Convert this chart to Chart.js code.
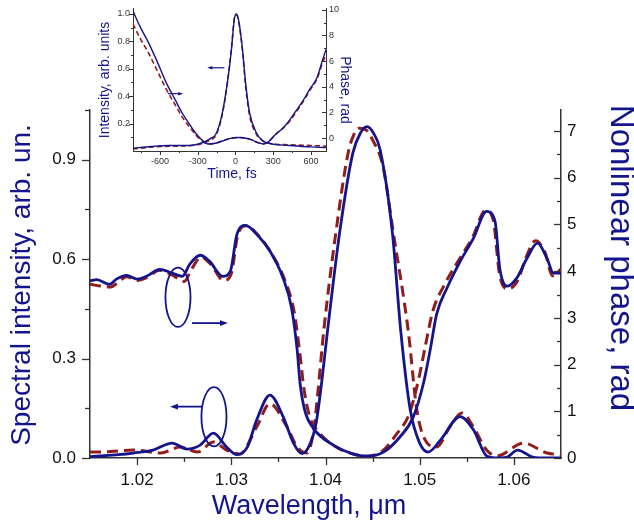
<!DOCTYPE html>
<html><head><meta charset="utf-8">
<script src="https://cdn.jsdelivr.net/npm/chart.js@4/dist/chart.umd.min.js"></script>
<style>
html,body{margin:0;padding:0;background:#fff;}
#wrap{position:relative;width:634px;height:527px;overflow:hidden;}
#main{position:absolute;left:0;top:0;}
#inset{position:absolute;left:95px;top:0;}
</style></head><body>
<div id="wrap"><canvas id="main" width="634" height="527"></canvas><canvas id="inset" width="265" height="185"></canvas></div>
<script>
// ---------------- MAIN CHART DATA ----------------
const X_TICKS = [1.02, 1.03, 1.04, 1.05, 1.06];
const X_MINOR = [1.025, 1.035, 1.045, 1.055];
const YL_TICKS = [0, 0.3, 0.6, 0.9];
const YL_MINOR = [0.15, 0.45, 0.75, 1.05];
const YR_TICKS = [0, 1, 2, 3, 4, 5, 6, 7];
const YR_MINOR = [0.5, 1.5, 2.5, 3.5, 4.5, 5.5, 6.5];

const INT_SOLID_WL = [1.0150,1.0161,1.0180,1.0196,1.0217,1.0237,1.0253,1.0267,1.0281,1.0295,1.0306,1.0317,1.0327,1.0341,1.0355,1.0366,1.0375,1.0384,1.0390,1.0396,1.0402,1.0415,1.0429,1.0437,1.0444,1.0451,1.0458,1.0471,1.0480,1.0490,1.0500,1.0509,1.0522,1.0543,1.0557,1.0571,1.0580,1.0592,1.0604,1.0620,1.0635,1.0650];
const INT_SOLID =    [0.004, 0.006, 0.010, 0.015, 0.024, 0.045, 0.027, 0.039, 0.075, 0.033, 0.010, 0.033, 0.115, 0.190, 0.125, 0.045, 0.013, 0.045, 0.105, 0.230, 0.380, 0.680, 0.920, 0.980, 1.000, 0.980, 0.930, 0.680, 0.380, 0.145, 0.045, 0.018, 0.054, 0.125, 0.085, 0.006, 0.000, 0.002, 0.024, 0.003, 0.000, 0.000];

const INT_DASH_WL = [1.0150,1.0161,1.0196,1.0225,1.0246,1.0264,1.0281,1.0295,1.0309,1.0327,1.0341,1.0359,1.0370,1.0380,1.0387,1.0392,1.0398,1.0411,1.0424,1.0430,1.0436,1.0443,1.0450,1.0461,1.0472,1.0488,1.0497,1.0508,1.0518,1.0532,1.0545,1.0557,1.0571,1.0582,1.0610,1.0635,1.0650];
const INT_DASH =    [0.018, 0.018, 0.024, 0.015, 0.033, 0.018, 0.048, 0.024, 0.012, 0.094, 0.164, 0.094, 0.033, 0.015, 0.075, 0.200, 0.380, 0.680, 0.920, 0.975, 0.995, 0.990, 0.960, 0.880, 0.680, 0.380, 0.145, 0.045, 0.033, 0.094, 0.136, 0.094, 0.024, 0.006, 0.045, 0.015, 0.010];

const PH_SOLID_WL = [1.0150,1.0157,1.0171,1.0178,1.0189,1.0200,1.0210,1.0224,1.0237,1.0248,1.0256,1.0267,1.0277,1.0291,1.0299,1.0306,1.0315,1.0327,1.0341,1.0355,1.0364,1.0370,1.0373,1.0378,1.0387,1.0408,1.0429,1.0444,1.0461,1.0479,1.0493,1.0504,1.0511,1.0518,1.0529,1.0543,1.0557,1.0571,1.0580,1.0585,1.0593,1.0603,1.0614,1.0625,1.0635,1.0642,1.0650];
const PH_SOLID =    [3.79, 3.82, 3.72, 3.83, 3.91, 3.83, 3.89, 4.04, 3.96, 3.89, 4.15, 4.34, 4.21, 3.89, 4.00, 4.79, 4.98, 4.79, 4.43, 3.85, 3.21, 2.30, 1.60, 1.02, 0.64, 0.28, 0.09, 0.04, 0.12, 0.45, 0.87, 1.60, 2.30, 3.08, 3.64, 4.21, 4.70, 5.28, 5.06, 4.06, 3.68, 3.85, 4.28, 4.60, 4.28, 3.96, 3.96];

const PH_DASH_WL = [1.0150,1.0161,1.0172,1.0182,1.0189,1.0200,1.0210,1.0224,1.0237,1.0250,1.0258,1.0268,1.0278,1.0292,1.0300,1.0307,1.0316,1.0328,1.0342,1.0357,1.0367,1.0373,1.0377,1.0383,1.0393,1.0410,1.0430,1.0444,1.0460,1.0475,1.0489,1.0499,1.0506,1.0514,1.0526,1.0541,1.0556,1.0570,1.0578,1.0585,1.0594,1.0604,1.0613,1.0623,1.0633,1.0641,1.0650];
const PH_DASH =    [3.72, 3.68, 3.66, 3.80, 3.88, 3.80, 3.86, 4.02, 3.92, 3.78, 4.05, 4.30, 4.15, 3.80, 3.95, 4.78, 4.97, 4.78, 4.40, 3.80, 3.10, 2.20, 1.50, 0.90, 0.55, 0.25, 0.08, 0.04, 0.14, 0.50, 0.95, 1.70, 2.40, 3.15, 3.70, 4.22, 4.72, 5.30, 5.10, 3.90, 3.62, 3.80, 4.30, 4.65, 4.40, 3.90, 4.05];

// annotation marks (data units)
const ELLIPSES_MAIN = [ {cx:1.02434, cy:0.485, rx:0.00133, ry:0.0895}, {cx:1.02816, cy:0.1246, rx:0.00133, ry:0.0895} ];
const ARROWS_MAIN = [ {x1:1.02583, y1:0.407, x2:1.02965, y2:0.407}, {x1:1.0270, y1:0.155, x2:1.02349, y2:0.155} ];

// ---------------- INSET DATA ----------------
const T_TICKS = [-600, -300, 0, 300, 600];
const T_MINOR = [-750, -450, -150, 150, 450];
const IL_TICKS = [0.2, 0.4, 0.6, 0.8, 1.0];
const IL_MINOR = [0.1, 0.3, 0.5, 0.7, 0.9];
const IR_TICKS = [0, 2, 4, 6, 8, 10];
const IR_MINOR = [1, 3, 5, 7, 9];

const INS_INT_T =     [-815, -672, -528, -368, -264, -200, -152, -104, -64, -32, -8, 8, 24, 56, 80, 112, 168, 210, 248, 432, 600, 720];
const INS_INT_SOLID = [0.02, 0.033, 0.04, 0.04, 0.06, 0.09, 0.13, 0.28, 0.50, 0.74, 0.97, 1.00, 0.96, 0.74, 0.50, 0.28, 0.13, 0.08, 0.06, 0.04, 0.03, 0.025];
const INS_INT_DASH =  [0.015,0.028, 0.035,0.038, 0.055, 0.08, 0.12, 0.27, 0.50, 0.75, 0.97, 0.99, 0.95, 0.73, 0.48, 0.26, 0.12, 0.08, 0.06, 0.045,0.04, 0.035];

const INS_PH_T =     [-815, -760, -690, -620, -550, -480, -420, -360, -310, -260, -220, -160, -100, -40, 20, 60, 120, 180, 220, 260, 320, 380, 430, 480, 536, 590, 648, 690, 720];
const INS_PH_SOLID = [9.9, 8.7, 7.4, 5.9, 4.3, 3.0, 1.9, 1.0, 0.3, -0.2, -0.45, -0.4, -0.2, -0.02, 0.05, 0.03, -0.1, -0.35, -0.45, -0.3, 0.3, 0.8, 1.4, 2.1, 2.9, 3.8, 4.7, 6.0, 6.9];
const INS_PH_DASH =  [8.9, 7.8, 6.6, 5.2, 3.8, 2.6, 1.6, 0.8, 0.2, -0.25, -0.45, -0.4, -0.2, -0.02, 0.05, 0.03, -0.1, -0.35, -0.45, -0.3, 0.3, 0.8, 1.3, 2.0, 2.8, 3.7, 4.6, 5.8, 6.5];

const ARROWS_INSET = [ {x1:-536, y1:0.418, x2:-416, y2:0.418}, {x1:-88, y1:0.607, x2:-224, y2:0.607} ];

// ---------------- TEXT ----------------
const TXT_X = 'Wavelength, \u03bcm';
const TXT_YL = 'Spectral intensity, arb. un.';
const TXT_YR = 'Nonlinear phase, rad';
const TXT_IX = 'Time, fs';
const TXT_IYL = 'Intensity, arb. units';
const TXT_IYR = 'Phase, rad';

const NAVY = '#14148c';
const RED = '#921c1c';
const AXC = '#333333';
const FONT = "'Liberation Sans', Arial, sans-serif";

const pts = (xs, ys) => xs.map((x, i) => ({x, y: ys[i]}));

const deco = {
  id: 'deco',
  afterDraw(chart, args, o) {
    const ctx = chart.ctx, ca = chart.chartArea;
    ctx.save();
    ctx.lineCap = 'butt';
    (o.ticks || []).forEach(t => {
      const s = chart.scales[t.scale];
      ctx.strokeStyle = AXC; ctx.lineWidth = t.width;
      const draw = (v, len) => {
        const p = Math.round(s.getPixelForValue(v)) + 0.5;
        ctx.beginPath();
        if (t.side === 'bottom') { ctx.moveTo(p, ca.bottom); ctx.lineTo(p, ca.bottom + len); }
        else if (t.side === 'left') { ctx.moveTo(ca.left, p); ctx.lineTo(ca.left - len, p); }
        else { ctx.moveTo(ca.right, p); ctx.lineTo(ca.right - len, p); }
        ctx.stroke();
      };
      t.major.forEach(v => draw(v, t.majorLen));
      t.minor.forEach(v => draw(v, t.minorLen));
    });
    (o.ellipses || []).forEach(e => {
      const xs = chart.scales[e.xs], ys = chart.scales[e.ys];
      const cx = xs.getPixelForValue(e.cx), cy = ys.getPixelForValue(e.cy);
      const rx = Math.abs(xs.getPixelForValue(e.cx + e.rx) - cx), ry = Math.abs(ys.getPixelForValue(e.cy + e.ry) - cy);
      ctx.strokeStyle = NAVY; ctx.lineWidth = e.lw;
      ctx.beginPath(); ctx.ellipse(cx, cy, rx, ry, 0, 0, 2 * Math.PI); ctx.stroke();
    });
    (o.arrows || []).forEach(a => {
      const xs = chart.scales[a.xs], ys = chart.scales[a.ys];
      const x1 = xs.getPixelForValue(a.x1), y1 = ys.getPixelForValue(a.y1);
      const x2 = xs.getPixelForValue(a.x2), y2 = ys.getPixelForValue(a.y2);
      const dir = Math.sign(x2 - x1);
      ctx.strokeStyle = NAVY; ctx.fillStyle = NAVY; ctx.lineWidth = a.lw;
      ctx.beginPath(); ctx.moveTo(x1, y1); ctx.lineTo(x2 - dir * a.hl * 0.6, y2); ctx.stroke();
      ctx.beginPath(); ctx.moveTo(x2, y2); ctx.lineTo(x2 - dir * a.hl, y2 - a.hw); ctx.lineTo(x2 - dir * a.hl, y2 + a.hw); ctx.closePath(); ctx.fill();
    });
    (o.titles || []).forEach(tt => {
      ctx.save(); ctx.translate(tt.x, tt.y); ctx.rotate(tt.rot * Math.PI / 180);
      ctx.font = tt.font; ctx.fillStyle = NAVY; ctx.textAlign = 'center'; ctx.textBaseline = 'middle';
      ctx.fillText(tt.text, 0, 0); ctx.restore();
    });
    ctx.restore();
  }
};

function setTicks(list) { return s => { s.ticks = list.map(v => ({value: v})); }; }
const noGrid = { display: false, drawTicks: false, tickLength: 0 };

// ---------------- MAIN CHART ----------------
new Chart(document.getElementById('main'), {
  type: 'line',
  data: { datasets: [
    { data: pts(INT_SOLID_WL, INT_SOLID), yAxisID: 'yL', borderColor: NAVY, borderWidth: 2.8 },
    { data: pts(PH_SOLID_WL, PH_SOLID), yAxisID: 'yR', borderColor: NAVY, borderWidth: 2.8 },
    { data: pts(INT_DASH_WL, INT_DASH), yAxisID: 'yL', borderColor: RED, borderWidth: 3, borderDash: [11, 6] },
    { data: pts(PH_DASH_WL, PH_DASH), yAxisID: 'yR', borderColor: RED, borderWidth: 3, borderDash: [11, 6] }
  ]},
  options: {
    responsive: false, animation: false, devicePixelRatio: 1,
    layout: { padding: { top: 110, left: 0, right: 0, bottom: 0 } },
    elements: { point: { radius: 0 }, line: { cubicInterpolationMode: 'monotone', fill: false } },
    plugins: {
      legend: { display: false }, tooltip: { enabled: false },
      deco: {
        ticks: [
          { scale: 'x', side: 'bottom', major: X_TICKS, minor: X_MINOR, majorLen: 7, minorLen: 4, width: 1.3 },
          { scale: 'yL', side: 'left', major: YL_TICKS, minor: YL_MINOR, majorLen: 8, minorLen: 5, width: 1.3 },
          { scale: 'yR', side: 'right', major: YR_TICKS, minor: YR_MINOR, majorLen: 7, minorLen: 4, width: 1.3 }
        ],
        ellipses: ELLIPSES_MAIN.map(e => Object.assign({xs: 'x', ys: 'yL', lw: 1.8}, e)),
        arrows: ARROWS_MAIN.map(a => Object.assign({xs: 'x', ys: 'yL', lw: 1.8, hl: 8, hw: 2.8}, a)),
        titles: [
          { text: TXT_X, x: 309, y: 507, rot: 0, font: '27px ' + FONT },
          { text: TXT_YL, x: 22, y: 285, rot: -90, font: '28px ' + FONT },
          { text: TXT_YR, x: 620, y: 258, rot: 90, font: '33px ' + FONT }
        ]
      }
    },
    scales: {
      x: { type: 'linear', min: 1.015, max: 1.065, afterBuildTicks: setTicks(X_TICKS),
           afterFit: s => { s.height = 69; },
           grid: noGrid, border: { display: true, color: AXC, width: 1.5 },
           ticks: { padding: 12, color: '#111', font: { family: FONT, size: 17 }, callback: v => v.toFixed(2), maxRotation: 0 } },
      yL: { type: 'linear', position: 'left', min: 0, max: 1.05, afterBuildTicks: setTicks(YL_TICKS),
           afterFit: s => { s.width = 90; },
           grid: noGrid, border: { display: true, color: AXC, width: 1.5 },
           ticks: { padding: 14, color: '#111', font: { family: FONT, size: 17 }, callback: v => v.toFixed(1) } },
      yR: { type: 'linear', position: 'right', min: 0, max: 7.45, afterBuildTicks: setTicks(YR_TICKS),
           afterFit: s => { s.width = 73; },
           grid: noGrid, border: { display: true, color: AXC, width: 1.5 },
           ticks: { padding: 6, color: '#111', font: { family: FONT, size: 17 }, callback: v => String(v) } }
    }
  },
  plugins: [deco]
});

// ---------------- INSET CHART ----------------
new Chart(document.getElementById('inset'), {
  type: 'line',
  data: { datasets: [
    { data: pts(INS_INT_T, INS_INT_SOLID), yAxisID: 'yL', borderColor: NAVY, borderWidth: 1.4 },
    { data: pts(INS_PH_T, INS_PH_SOLID), yAxisID: 'yR', borderColor: NAVY, borderWidth: 1.4 },
    { data: pts(INS_INT_T, INS_INT_DASH), yAxisID: 'yL', borderColor: RED, borderWidth: 1.6, borderDash: [5, 3] },
    { data: pts(INS_PH_T, INS_PH_DASH), yAxisID: 'yR', borderColor: RED, borderWidth: 1.6, borderDash: [5, 3] }
  ]},
  options: {
    responsive: false, animation: false, devicePixelRatio: 1,
    layout: { padding: { top: 8, left: 0, right: 0, bottom: 0 } },
    elements: { point: { radius: 0 }, line: { cubicInterpolationMode: 'monotone', fill: false } },
    plugins: {
      legend: { display: false }, tooltip: { enabled: false },
      deco: {
        ticks: [
          { scale: 'x', side: 'bottom', major: T_TICKS, minor: T_MINOR, majorLen: 4, minorLen: 2, width: 1 },
          { scale: 'yL', side: 'left', major: IL_TICKS, minor: IL_MINOR, majorLen: 4, minorLen: 2, width: 1 },
          { scale: 'yR', side: 'right', major: IR_TICKS, minor: IR_MINOR, majorLen: 4, minorLen: 2, width: 1 }
        ],
        arrows: ARROWS_INSET.map(a => Object.assign({xs: 'x', ys: 'yL', lw: 1.2, hl: 5, hw: 1.8}, a)),
        titles: [
          { text: TXT_IX, x: 137, y: 174, rot: 0, font: '14px ' + FONT },
          { text: TXT_IYL, x: 10, y: 80, rot: -90, font: '14px ' + FONT },
          { text: TXT_IYR, x: 250, y: 90, rot: 90, font: '14px ' + FONT }
        ]
      }
    },
    scales: {
      x: { type: 'linear', min: -815, max: 720, afterBuildTicks: setTicks(T_TICKS),
           afterFit: s => { s.height = 34; },
           grid: noGrid, border: { display: true, color: AXC, width: 1 },
           ticks: { padding: 5, color: '#333', font: { family: FONT, size: 9 }, maxRotation: 0, callback: v => String(v) } },
      yL: { type: 'linear', position: 'left', min: 0, max: 1.04, afterBuildTicks: setTicks(IL_TICKS),
           afterFit: s => { s.width = 38; },
           grid: noGrid, border: { display: true, color: AXC, width: 1 },
           ticks: { padding: 3, color: '#333', font: { family: FONT, size: 9 }, callback: v => v.toFixed(1) } },
      yR: { type: 'linear', position: 'right', min: -1, max: 10.1, afterBuildTicks: setTicks(IR_TICKS),
           afterFit: s => { s.width = 34; },
           grid: noGrid, border: { display: true, color: AXC, width: 1 },
           ticks: { padding: 3, color: '#333', font: { family: FONT, size: 9 }, callback: v => String(v) } }
    }
  },
  plugins: [deco]
});
</script></body></html>
